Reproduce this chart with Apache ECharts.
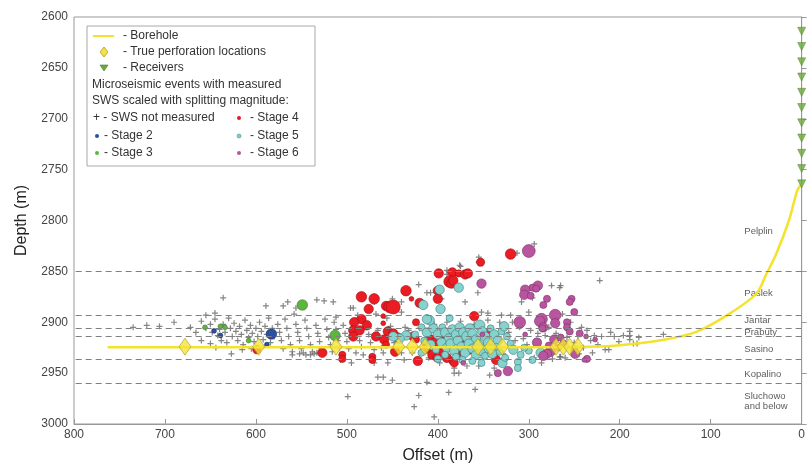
<!DOCTYPE html>
<html>
<head>
<meta charset="utf-8">
<script src="https://cdn.jsdelivr.net/npm/echarts@6/dist/echarts.min.js"></script>
<style>
  html, body { margin: 0; padding: 0; background: #fff; }
  #chart { width: 808px; height: 469px; }
</style>
</head>
<body>
<div id="chart"></div>
<script>
// borehole trajectory [offset, depth]
var borehole = [[763,2924.5],[700,2924.5],[600,2924.5],[500,2924.5],[400,2924.5],[300,2924.5],[250,2924.3],[200,2922.5],[150,2917],[116,2909.5],[80,2892],[50,2872],[39,2853],[28,2833],[14,2800],[5,2771],[0,2764]];

var perforations = [[678,2924],[597,2924],[512,2924],[443,2924],[428,2924],[414,2924],[356,2924],[342,2924],[329,2924],[270,2924],[262,2924],[255,2924],[246,2924]];

var receivers = [[0,2614],[0,2629],[0,2644],[0,2659],[0,2674],[0,2689],[0,2704],[0,2719],[0,2734],[0,2749],[0,2764]];

var formationTops = [2850, 2893, 2906, 2914, 2936, 2960];
var formationLabels = [[63,2811,'Pelplin'],[63,2872,'Paslek'],[63,2898,'Jantar'],[63,2910,'Prabuty'],[63,2927,'Sasino'],[63,2951,'Kopalino'],[63,2978,'Sluchowo\nand below']];

// events without SWS measurement
var notMeasured = [
  [735,2905],[720,2903],[706,2904],[690,2900],
  [660,2899],[655,2906],[650,2902],[648,2910],[645,2897],[642,2913],[640,2907],[638,2918],[636,2902],[634,2910],[632,2920],[630,2896],[628,2906],[626,2914],[624,2901],[622,2909],[620,2918],[618,2904],[616,2912],[614,2922],[612,2898],[610,2908],[608,2915],[606,2903],[604,2911],[602,2919],[600,2906],[598,2914],[596,2900],[594,2909],[592,2917],[590,2904],[588,2912],[586,2896],[584,2920],[582,2906],[580,2914],[636,2876],[589,2884],[570,2884],[660,2918],[650,2921],[644,2925],[627,2931],[615,2927],[605,2926],[655,2893],[645,2891],[666,2910],[672,2905],
  [576,2902],[574,2910],[572,2918],[570,2926],[568,2897],[566,2906],[564,2914],[562,2922],[560,2929],[558,2892],[556,2902],[554,2910],[552,2918],[550,2926],[548,2930],[546,2898],[544,2906],[542,2914],[540,2922],[538,2929],[536,2931],[534,2903],[532,2911],[530,2919],[528,2926],[526,2931],[524,2897],[522,2907],[520,2915],[560,2932],[552,2931],[545,2932],[540,2932],[533,2930],[556,2886],[533,2878],[525,2879],[515,2880],[565,2880],
  [518,2922],[516,2929],[514,2900],[512,2907],[510,2918],[508,2925],[506,2932],[504,2903],[502,2911],[500,2919],[498,2926],[496,2886],[493,2886],[490,2930],[488,2893],[486,2918],[484,2924],[482,2932],[480,2905],[476,2912],[474,2920],[470,2927],[468,2892],[466,2908],[462,2925],[460,2930],[456,2896],[452,2904],[448,2920],[444,2926],[440,2930],[499,2973],[466,2954],[460,2954],[450,2957],[426,2983],[421,2972],[412,2959],[404,2993],[388,2969],[382,2950],[377,2950],[359,2966],[343,2952],[376,2844],[412,2871],[408,2871],[421,2863],[507,2937],[495,2940],[470,2940],[455,2940],[437,2937],[512,2895],[490,2898],[470,2880],[450,2877],[440,2890],
  [436,2905],[432,2908],[428,2930],[420,2906],[416,2928],[410,2935],[404,2902],[398,2940],[390,2900],[382,2945],[375,2899],[368,2943],[360,2902],[355,2943],[350,2935],[345,2898],[338,2945],[332,2900],[328,2931],[322,2910],[318,2900],[315,2918],[390,2849],[390,2853],[375,2845],[355,2836],[355,2841],[353,2862],[356,2871],[313,2832],[298,2827],[294,2823],[396,2877],[370,2880],[352,2890],[345,2891],[330,2893],[440,2880],
  [310,2905],[306,2916],[302,2922],[298,2908],[294,2935],[290,2911],[286,2940],[282,2913],[278,2905],[274,2936],[270,2911],[266,2934],[263,2892],[262,2918],[258,2915],[254,2900],[250,2920],[246,2914],[242,2905],[240,2925],[236,2908],[232,2918],[228,2913],[224,2922],[220,2914],[216,2927],[212,2927],[210,2910],[206,2914],[201,2919],[196,2913],[189,2909],[189,2913],[189,2917],[185,2921],[181,2921],[179,2915],[152,2912],[222,2859],[265,2864],[275,2864],[291,2863],[294,2865],[266,2866],[296,2876],[265,2934],[260,2935],[230,2930],[245,2931],[308,2880],[300,2890],[320,2893]
];

// events with SWS: [offset, depth, splitting magnitude]
var stage2 = [[583,2911.5,3.5],[646,2908.5,1],[639,2913,1],[588,2922,1]];
var stage3 = [[549,2883,3.5],[513,2913,3.5],[656,2905,1],[639,2904,1],[634,2905,1],[608,2918,1]];
var stage4 = [
  [484,2875,3.5],[470,2877,3.5],[476,2887,3],[457,2884,3],[453,2885,4],[449,2885,5],[435,2869,3.5],[429,2877,1],[420,2881,3],
  [484,2897,3],[492,2900,3],[478,2903,3],[493,2908,3],[486,2908,3],[493,2914,3],[468,2914,3],[460,2901,1],[455,2909,3],[449,2911,3],
  [459,2917,3],[444,2915,3],[457,2922,2],[447,2929,3],[472,2934,2],[472,2937,2],[527,2930,3],[505,2932,2],[505,2936,2],[424,2900,2],
  [427,2914,3],[424,2917,2],[413,2920,3],[413,2926,3],[422,2938,3],[417,2883,2],[460,2894,1],[320,2833,3.5],[353,2841,2.5],[399,2852,3],
  [384,2851,3],[377,2852,2],[370,2853,3],[367,2852,3],[387,2860,4],[385,2862,3],[383,2859,3],[400,2869,3],[400,2877,3],[360,2894,3],
  [408,2917,3],[403,2920,3],[398,2924,3],[394,2930,3],[390,2935,3],[384,2938,2],[406,2932,3],[396,2915,2],[336,2937,3],[345,2910,2],
  [599,2927,2.5],[372,2921,2],[365,2928,2],[378,2931,2],[401,2935,2.5],[382,2940,2.5]
];
var stage5 = [
  [418,2905,2],[412,2910,3],[405,2906,3],[400,2912,3],[395,2905,2],[392,2910,3],[388,2916,3],[384,2907,3],[380,2912,3],[376,2905,3],
  [372,2910,3],[368,2914,3.5],[365,2906,3],[362,2911,3],[358,2917,3],[354,2903,3.5],[351,2909,3],[348,2914,3],[345,2920,3],[342,2906,2],
  [338,2912,3],[334,2918,3],[330,2909,2],[327,2904,3],[324,2914,2],[320,2921,2],[317,2927,3],[415,2918,2],[408,2922,3],[402,2927,2],
  [396,2920,3],[390,2925,3],[386,2921,3],[382,2928,3],[378,2918,3],[374,2924,3],[370,2930,3],[366,2921,3],[362,2926,3],[358,2932,3],
  [355,2922,3],[352,2928,3],[348,2933,2],[344,2926,3],[340,2931,3],[336,2924,2],[332,2929,2],[329,2940,3],[312,2939,2],[312,2945,2],
  [326,2935,2],[380,2934,2],[373,2937,2],[362,2938,2],[352,2940,2],[392,2932,2],[400,2936,2],[418,2930,2],[425,2912,2],[435,2913,3],
  [442,2916,3],[449,2914,3],[377,2866,3],[398,2868,3],[397,2887,3],[387,2896,2],[409,2898,3],[416,2883,3],[412,2897,3],[287,2930,3],
  [300,2928,2],[296,2937,2],[305,2925,2],[309,2932,2],[291,2919,2]
];
var stage6 = [
  [300,2830,4.5],[352,2862,3],[290,2864,3],[296,2866,2],[304,2868,3],[292,2867,2],[305,2873,3],[280,2877,2],[253,2877,2],[255,2880,2],
  [250,2890,2],[284,2883,2],[271,2893,4],[286,2897,4],[288,2899,3.5],[310,2900,4],[284,2905,3],[271,2901,3],[258,2900,2],[258,2905,2],
  [255,2909,2],[244,2911,2],[285,2906,2],[272,2917,3],[276,2929,3],[280,2931,3],[284,2933,3],[291,2920,3],[278,2923,2],[268,2925,2],
  [262,2921,2],[250,2927,2],[250,2931,2],[236,2936,2],[239,2937,1],[227,2917,1],[237,2914,1],[249,2931,3],[323,2948,3],[334,2950,2],
  [351,2912,1],[372,2940,1],[304,2912,1],[265,2915,2],[298,2874,2]
];

var FONT = '"Liberation Sans", Arial, sans-serif';
var chart = echarts.init(document.getElementById('chart'));

function swsSeries(name, data, fill, edge) {
  return {
    name: name, type: 'scatter', data: data, symbol: 'circle',
    symbolSize: function (v) { return 2.5 + v[2] * 2.3; },
    itemStyle: { color: fill, borderColor: edge, borderWidth: 0.6, opacity: 1 },
    silent: true, z: 3
  };
}

var legendG = [
  { type: 'rect', shape: { x: 87, y: 26, width: 228, height: 140 }, style: { fill: '#fff', stroke: '#a8a8a8', lineWidth: 1 } },
  { type: 'line', shape: { x1: 93, y1: 36, x2: 114, y2: 36 }, style: { stroke: '#f3e32c', lineWidth: 2 } },
  { type: 'polygon', shape: { points: [[104, 47], [108, 52], [104, 57], [100, 52]] }, style: { fill: '#f5e33a', stroke: '#a89a30', lineWidth: 0.8 } },
  { type: 'polygon', shape: { points: [[100, 65], [108, 65], [104, 71]] }, style: { fill: '#6aaa3a', stroke: '#4b7f28', lineWidth: 0.6 } },
  { type: 'circle', shape: { cx: 239, cy: 118, r: 2 }, style: { fill: '#e8191e' } },
  { type: 'circle', shape: { cx: 97, cy: 136, r: 2 }, style: { fill: '#2a4fa3' } },
  { type: 'circle', shape: { cx: 97, cy: 153, r: 2 }, style: { fill: '#5cb53c' } },
  { type: 'circle', shape: { cx: 239, cy: 136, r: 2 }, style: { fill: '#7fcdcb', stroke: '#3f8080', lineWidth: 0.5 } },
  { type: 'circle', shape: { cx: 239, cy: 153, r: 2 }, style: { fill: '#b9559f' } }
];
var legendTexts = [
  [123, 36, '- Borehole'], [123, 52, '- True perforation locations'], [123, 68, '- Receivers'],
  [92, 85, 'Microseismic events with measured'], [92, 101, 'SWS scaled with splitting magnitude:'],
  [93, 118, '+ - SWS not measured'], [250, 118, '- Stage 4'],
  [104, 136, '- Stage 2'], [250, 136, '- Stage 5'],
  [104, 153, '- Stage 3'], [250, 153, '- Stage 6']
];
legendTexts.forEach(function (t) {
  legendG.push({ type: 'text', x: t[0], y: t[1], style: { text: t[2], font: '12px ' + FONT, fill: '#333', verticalAlign: 'middle' } });
});
legendG.forEach(function (g) { g.z = 100; g.silent = true; });

chart.setOption({
  animation: false,
  backgroundColor: '#fff',
  textStyle: { fontFamily: FONT },
  grid: { left: 74, right: 2, top: 17, bottom: 41, show: true, borderColor: '#999', borderWidth: 1 },
  xAxis: {
    type: 'value', min: 0, max: 800, interval: 100, inverse: true,
    name: 'Offset (m)', nameLocation: 'middle', nameGap: 24,
    nameTextStyle: { fontSize: 16, color: '#222' },
    axisLine: { lineStyle: { color: '#999' } },
    axisTick: { inside: true, length: 5, lineStyle: { color: '#999' } },
    axisLabel: { fontSize: 12, color: '#444', margin: 5 },
    splitLine: { show: false }
  },
  yAxis: {
    type: 'value', min: 2600, max: 3000, interval: 50, inverse: true,
    name: 'Depth (m)', nameLocation: 'middle', nameGap: 44, nameRotate: 90,
    nameTextStyle: { fontSize: 16, color: '#222' },
    axisLine: { lineStyle: { color: '#999' } },
    axisTick: { inside: true, length: 5, lineStyle: { color: '#999' } },
    axisLabel: { fontSize: 12, color: '#444', margin: 6, formatter: function (v) { return String(v); } },
    splitLine: { show: false }
  },
  graphic: legendG,
  series: [
    {
      name: 'tops', type: 'line', data: [], silent: true,
      markLine: {
        silent: true, symbol: ['none', 'none'], label: { show: false },
        lineStyle: { type: [6, 4], color: '#808080', width: 1 },
        data: formationTops.map(function (d) { return { yAxis: d }; })
      }
    },
    {
      name: 'formations', type: 'scatter', data: formationLabels, symbolSize: 0, silent: true,
      label: { show: true, position: 'right', distance: 0, fontSize: 9.5, color: '#333', lineHeight: 10,
        formatter: function (p) { return p.data[2]; } }
    },
    {
      name: 'SWS not measured', type: 'scatter', data: notMeasured,
      symbol: 'path://M4,0H6V4H10V6H6V10H4V6H0V4H4Z', symbolSize: 6,
      itemStyle: { color: '#666' }, silent: true, z: 2
    },
    swsSeries('Stage 2', stage2, '#2a4fa3', '#1a2f66'),
    swsSeries('Stage 3', stage3, '#5cb53c', '#3a7a25'),
    swsSeries('Stage 4', stage4, '#ec1c24', '#9a1010'),
    swsSeries('Stage 5', stage5, '#86d2cf', '#3a7a78'),
    swsSeries('Stage 6', stage6, '#b9559f', '#7a3068'),
    {
      name: 'Borehole', type: 'line', data: borehole, smooth: 0.3, showSymbol: false,
      lineStyle: { color: '#f3e32c', width: 2.5 }, silent: true, z: 4
    },
    {
      name: 'Perforations', type: 'scatter', data: perforations, symbol: 'diamond', symbolSize: [12, 17],
      itemStyle: { color: '#f5e33a', borderColor: '#a89a30', borderWidth: 0.8 }, silent: true, z: 5
    },
    {
      name: 'Receivers', type: 'scatter', data: receivers, symbol: 'triangle', symbolRotate: 180, symbolSize: 8,
      itemStyle: { color: '#6aaa3a', borderColor: '#4b7f28', borderWidth: 0.6 }, silent: true, z: 5
    }
  ]
});
</script>
</body>
</html>
